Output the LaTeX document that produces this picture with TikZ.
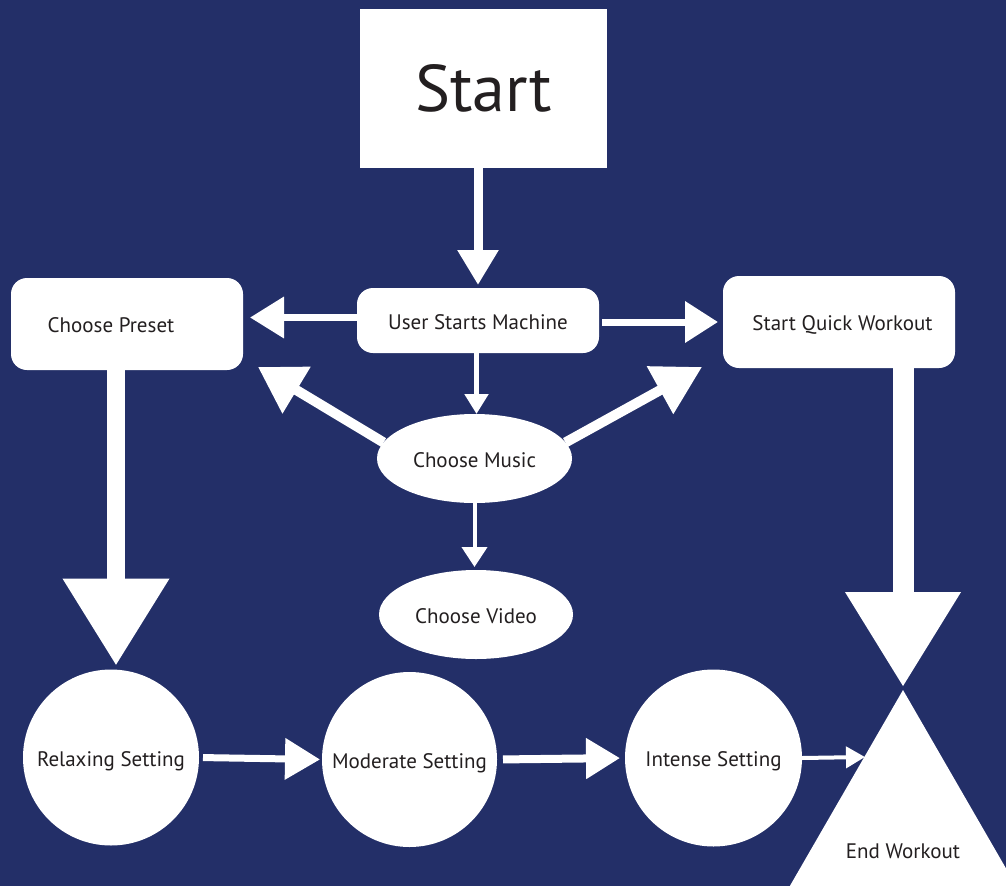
\documentclass[tikz,border=0pt]{standalone}
\usepackage{fontspec}
\setmainfont{PT Sans}
\usetikzlibrary{arrows.meta,shapes.geometric}
\definecolor{bg}{HTML}{232F68}
\definecolor{ink}{HTML}{231F20}
\tikzset{
  box/.style={fill=white, draw=none, text=ink, inner sep=0pt, outer sep=0pt, font=\fontsize{21}{24}\selectfont},
  even/.style={text height=21pt, text depth=4pt},
  rbox/.style={box, even, rectangle, rounded corners=16pt},
  oval/.style={box, even, ellipse},
  disc/.style={box, even, circle},
  lbl/.style={text=ink, font=\fontsize{21}{24}\selectfont},
  arr/.style n args={3}{draw=white, line width=#1, arrows={-Triangle[width=#2,length=#3]}},
}
\begin{document}
\begin{tikzpicture}[x=1pt,y=-1pt]
\fill[bg] (0,0) rectangle (1006,886);
\useasboundingbox (0,0) rectangle (1006,886);

\node[box, rectangle, minimum width=247pt, minimum height=159pt, font=\fontsize{66}{72}\selectfont] (start) at (483.5,88.5) {Start};
\node[rbox, minimum width=242pt, minimum height=65pt] (usm) at (478,320.5) {User Starts Machine};
\node[rbox, minimum width=232pt, minimum height=92pt, label={[xshift=-16pt, yshift=-1pt, lbl]center:Choose Preset}] (cp) at (127,324) {};
\node[rbox, minimum width=232pt, minimum height=92pt] (sqw) at (839,322) {\hspace*{7pt}Start Quick Workout};
\node[oval, minimum width=195pt, minimum height=89pt] (cm) at (474.5,458.5) {Choose Music};
\node[oval, minimum width=194pt, minimum height=89pt] (cv) at (476,614.5) {Choose Video};
\node[disc, minimum size=176pt] (rs) at (111,757.5) {Relaxing Setting};
\node[disc, minimum size=175pt] (ms) at (409.5,759.5) {Moderate Setting};
\node[disc, minimum size=177pt] (is) at (713.5,758) {Intense Setting};
\node[box, regular polygon, regular polygon sides=3, minimum size=300pt, label={[yshift=-11pt, lbl]center:End Workout}] (ew) at (903,840) {};

\coordinate (tl) at (258,367);
\coordinate (tr) at (702,367);
\coordinate (ewin) at (865,757);

\draw[arr={9pt}{39pt}{35pt}, shorten >=3pt] (start.south -| usm.north) -- (usm.north);
\draw[arr={7pt}{40pt}{34pt}, shorten >=7pt] ([yshift=3pt]usm.west) -- ([yshift=3pt]usm.west -| cp.east);
\draw[arr={7pt}{40pt}{33pt}, shorten <=3pt, shorten >=5pt] ([yshift=-1.5pt]usm.east) -- (sqw.west);
\draw[arr={5pt}{23pt}{20pt}] ([xshift=2pt]cm.north |- usm.south) -- ([xshift=2pt]cm.north);
\draw[arr={10pt}{52pt}{45pt}] (cm.170) -- (tl);
\draw[arr={10pt}{52pt}{48pt}] (cm.10) -- (tr);
\draw[arr={4pt}{25pt}{20pt}, shorten >=3pt] (cm.south) -- (cm.south |- cv.north);
\draw[arr={18pt}{102pt}{87pt}, shorten >=4pt] ([xshift=-11pt]cp.south) -- ([xshift=-11pt]cp.south |- rs.north);
\draw[arr={21pt}{110pt}{95pt}, shorten >=3pt] ([xshift=64pt]sqw.south) -- ([xshift=64pt]sqw.south |- ew.corner 1);
\draw[arr={7pt}{40pt}{35pt}, shorten <=4pt, shorten >=2pt] (rs.east) -- (ms.west);
\draw[arr={8pt}{39pt}{34pt}, shorten <=6pt, shorten >=5pt] (ms.east) -- (is.west);
\draw[arr={4pt}{21pt}{19pt}] (is.east) -- (ewin);
\end{tikzpicture}
\end{document}
